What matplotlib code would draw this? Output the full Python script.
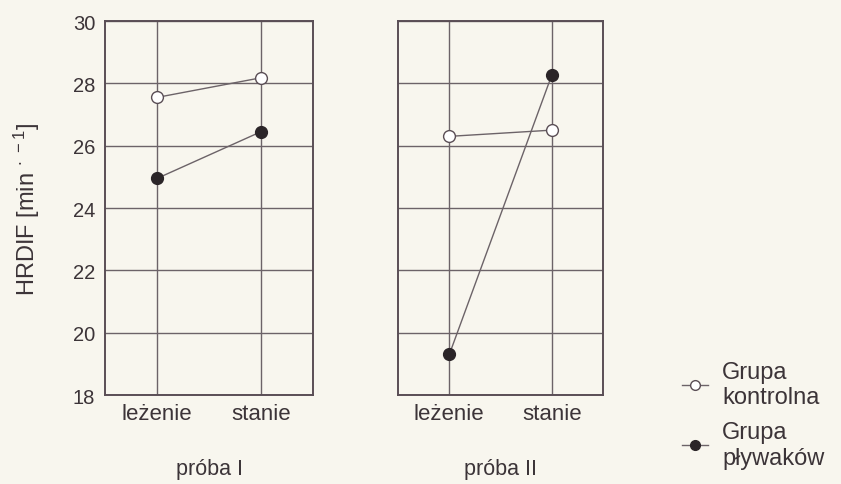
import matplotlib.pyplot as plt

plt.rcParams['font.family'] = ['Liberation Sans', 'DejaVu Sans']
plt.rcParams['mathtext.default'] = 'regular'

positions = ['leżenie', 'stanie']
trials = ['próba I', 'próba II']
control = [[27.55, 28.18], [26.3, 26.5]]
swimmers = [[24.95, 26.45], [19.3, 28.27]]

bg = '#f8f6ee'
ink = '#5a4e55'
grid_col = '#6c6368'
txt = '#3c3438'

fig = plt.figure(figsize=(8.41, 4.85), dpi=100, facecolor=bg)
ax_left = fig.add_axes([0.1249, 0.1835, 0.2473, 0.771])
ax_right = fig.add_axes([0.4733, 0.1835, 0.2438, 0.771])

for i, ax in enumerate([ax_left, ax_right]):
    ax.set_facecolor(bg)
    ax.plot(range(2), control[i], color=grid_col, lw=1.0, marker='o', ms=8.5,
            mfc='white', mec=ink, mew=1.0, zorder=3)
    ax.plot(range(2), swimmers[i], color=grid_col, lw=1.0, marker='o', ms=8.5,
            mfc='#2b2528', mec='#2b2528', zorder=3)
    ax.set_xlim(-0.5, 1.5)
    ax.set_ylim(18, 30)
    ax.set_xticks(range(2))
    ax.set_xticklabels(positions, fontsize=16, color=txt)
    ax.set_yticks(range(18, 31, 2))
    ax.grid(True, color=grid_col, lw=1.0)
    ax.set_axisbelow(True)
    ax.tick_params(axis='x', length=0, pad=6, labelsize=16, labelcolor=txt)
    ax.tick_params(axis='y', length=0, pad=7, labelsize=14.5, labelcolor=txt)
    for sp in ax.spines.values():
        sp.set_color(ink)
        sp.set_linewidth(1.4)
    ax.set_xlabel(trials[i], fontsize=15.5, color=txt, labelpad=24)

ax_right.tick_params(labelleft=False)
ax_left.set_ylabel('HRDIF [min $^{\\cdot\\ -1}$]', fontsize=17, color=txt, labelpad=22)

h1, = ax_left.plot([], [], color=grid_col, lw=1.0, marker='o', ms=7,
                   mfc='white', mec=ink)
h2, = ax_left.plot([], [], color=grid_col, lw=1.0, marker='o', ms=7,
                   mfc='#2b2528', mec='#2b2528')
fig.legend([h1, h2], ['Grupa\nkontrolna', 'Grupa\npływaków'],
           loc='upper left', bbox_to_anchor=(0.797, 0.278), frameon=False,
           borderpad=0, fontsize=17, handlelength=1.1, handletextpad=0.6,
           labelspacing=0.55, labelcolor=txt)

fig.savefig('out.png', dpi=100, facecolor=bg)
